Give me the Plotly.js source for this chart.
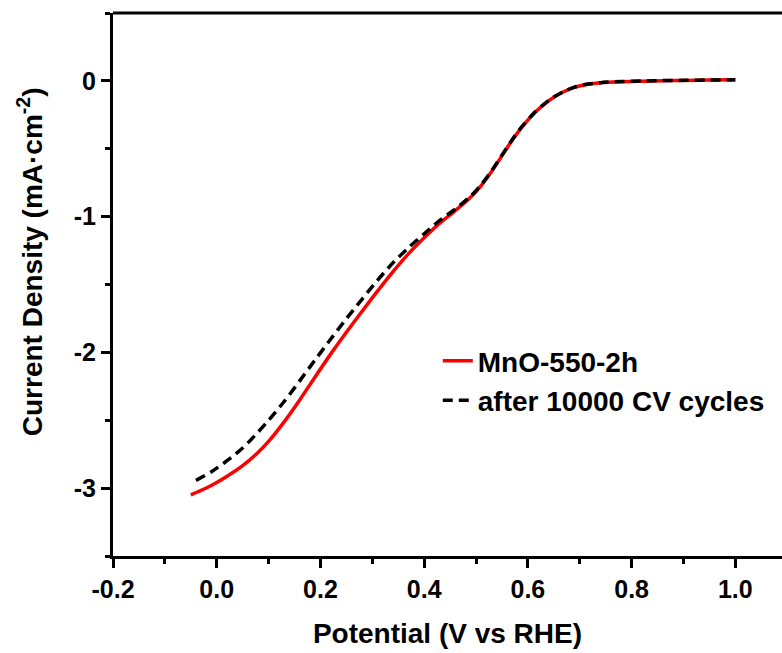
<!DOCTYPE html>
<html>
<head>
<meta charset="utf-8">
<script src="https://cdn.plot.ly/plotly-3.0.1.min.js"></script>
<style>html,body{margin:0;padding:0;background:#fff;}#chart{width:782px;height:653px;}</style>
</head>
<body>
<div id="chart"></div>
<script>
// Potential (V vs RHE)
const potentialFresh = [-0.05,-0.02,0.00,0.02,0.05,0.08,0.10,0.13,0.16,0.19,0.22,0.25,0.28,0.31,0.34,0.37,0.40,0.43,0.46,0.49,0.51,0.53,0.55,0.57,0.59,0.61,0.63,0.65,0.67,0.69,0.71,0.74,0.78,0.82,0.86,0.90,0.95,1.00];
// Current density (mA·cm-2), MnO-550-2h
const currentFresh = [-3.05,-2.999,-2.959,-2.913,-2.835,-2.736,-2.656,-2.512,-2.350,-2.179,-2.011,-1.852,-1.699,-1.549,-1.405,-1.273,-1.156,-1.048,-0.956,-0.856,-0.771,-0.668,-0.552,-0.436,-0.333,-0.247,-0.177,-0.121,-0.078,-0.047,-0.028,-0.014,-0.006,-0.002,0.001,0.003,0.006,0.008];

const potentialCycled = [-0.04,-0.01,0.02,0.05,0.08,0.10,0.13,0.16,0.19,0.22,0.25,0.28,0.31,0.34,0.37,0.40,0.43,0.46,0.49,0.51,0.53,0.55,0.57,0.59,0.61,0.63,0.65,0.67,0.69,0.71,0.74,0.78,0.82,0.86,0.90,0.95,1.00];
// Current density (mA·cm-2), after 10000 CV cycles
const currentCycled = [-2.943,-2.879,-2.798,-2.705,-2.586,-2.501,-2.362,-2.210,-2.054,-1.901,-1.752,-1.609,-1.469,-1.340,-1.228,-1.126,-1.028,-0.944,-0.848,-0.765,-0.662,-0.547,-0.432,-0.330,-0.244,-0.175,-0.119,-0.077,-0.046,-0.027,-0.013,-0.005,-0.001,0.002,0.004,0.006,0.008];

const seriesNames = ["MnO-550-2h", "after 10000 CV cycles"];
const xTickVals = [-0.2,0.0,0.2,0.4,0.6,0.8,1.0];
const xTickText = ["-0.2","0.0","0.2","0.4","0.6","0.8","1.0"];
const yTickVals = [-3,-2,-1,0];
const yTickText = ["-3","-2","-1","0"];
const xTitle = "Potential (V vs RHE)";
const yTitle = "Current Density (mA·cm<sup>-2</sup>)";

const FONT = "Liberation Sans, Arial, sans-serif";

const traces = [
  {x: potentialFresh, y: currentFresh, type: "scatter", mode: "lines", name: seriesNames[0],
   line: {color: "#ff0000", width: 3.5, shape: "spline", smoothing: 0.8}, legendgroup: "a"},
  {x: potentialCycled, y: currentCycled, type: "scatter", mode: "lines", name: seriesNames[1],
   line: {color: "#000000", width: 3.5, dash: "10px,6px", shape: "spline", smoothing: 0.8}, legendgroup: "b"}
];

const layout = {
  width: 782, height: 653,
  margin: {l: 113, r: 0, t: 13, b: 97},
  paper_bgcolor: "#fff", plot_bgcolor: "#fff",
  font: {family: FONT, color: "#000"},
  showlegend: true,
  legend: {x: 0.4855, xanchor: "left", y: 0.405, yanchor: "top",
    font: {family: FONT, size: 28, weight: "bold", color: "#000"},
    bgcolor: "rgba(0,0,0,0)", tracegroupgap: 0, traceorder: "grouped", itemwidth: 30},
  xaxis: {
    range: [-0.2, 1.09], showgrid: false, zeroline: false,
    showline: true, linecolor: "#000", linewidth: 3,
    tickmode: "array", tickvals: xTickVals, ticktext: xTickText,
    ticks: "outside", ticklen: 9, tickwidth: 3, tickcolor: "#000",
    minor: {dtick: 0.1, tick0: 0, ticks: "outside", ticklen: 5, tickwidth: 3, tickcolor: "#000", showgrid: false},
    tickfont: {family: FONT, size: 25, weight: "bold", color: "#000"},
    title: {text: xTitle, font: {family: FONT, size: 28, weight: "bold", color: "#000"}, standoff: 22},
    automargin: false
  },
  yaxis: {
    range: [-3.5, 0.5], showgrid: false, zeroline: false,
    showline: true, linecolor: "#000", linewidth: 3,
    tickmode: "array", tickvals: yTickVals, ticktext: yTickText,
    ticks: "outside", ticklen: 9, tickwidth: 3, tickcolor: "#000",
    minor: {dtick: 0.5, tick0: 0, ticks: "outside", ticklen: 5, tickwidth: 3, tickcolor: "#000", showgrid: false},
    tickfont: {family: FONT, size: 25, weight: "bold", color: "#000"},
    automargin: false
  },
  annotations: [
    {text: yTitle, xref: "paper", yref: "paper", x: 0, y: 0.541, xanchor: "center", yanchor: "middle",
     xshift: -83, textangle: -90, showarrow: false,
     font: {family: FONT, size: 28, weight: "bold", color: "#000"}}
  ],
  shapes: [
    {type: "line", xref: "paper", yref: "paper", x0: 0, x1: 1, y0: 1, y1: 1, line: {color: "#000", width: 3}}
  ]
};

Plotly.newPlot("chart", traces, layout, {displayModeBar: false, staticPlot: true});
</script>
</body>
</html>
